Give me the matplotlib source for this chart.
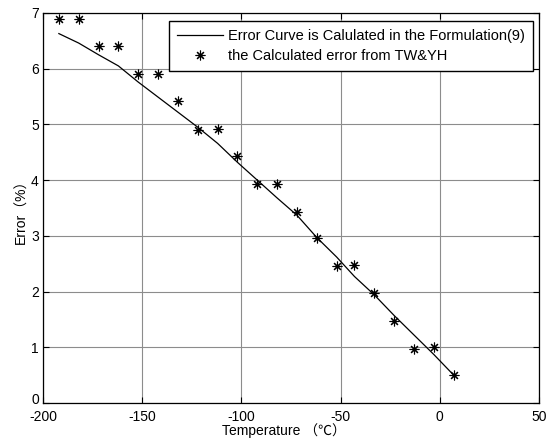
import matplotlib
matplotlib.use('Agg')
import matplotlib.pyplot as plt
import matplotlib.transforms as mtransforms

plt.rcParams['font.family'] = ['Liberation Sans', 'Noto Sans CJK SC', 'DejaVu Sans']
plt.rcParams['font.size'] = 10
plt.rcParams['axes.unicode_minus'] = False

# temperatures of the points / curve
temp = [-192, -182, -172, -162, -152, -142, -132, -122, -112, -102, -92,
        -82, -72, -62, -52, -43, -33, -23, -13, -3, 7]
# error curve from the formulation (9)
curve_err = [6.63, 6.46, 6.25, 6.05, 5.76, 5.49, 5.22, 4.95, 4.66, 4.32, 4.00,
             3.68, 3.37, 2.97, 2.62, 2.27, 1.94, 1.57, 1.22, 0.87, 0.50]
# calculated error from TW&YH
calc_err = [6.90, 6.90, 6.40, 6.40, 5.90, 5.90, 5.42, 4.90, 4.92, 4.43, 3.93,
            3.93, 3.43, 2.96, 2.46, 2.47, 1.97, 1.47, 0.97, 1.00, 0.50]

xticks = [-200, -150, -100, -50, 0, 50]
yticks = [0, 1, 2, 3, 4, 5, 6, 7]

fig = plt.figure(figsize=(5.47, 4.43), dpi=100)
ax = fig.add_axes([0.0786, 0.0903, 0.9068, 0.8804])

ax.plot(temp, curve_err, color='black', lw=0.9,
        label='Error Curve is Calulated in the Formulation(9)')
ax.plot(temp, calc_err, linestyle='none', marker=(8, 2, 0), markersize=7,
        markeredgewidth=0.8, color='black',
        label='the Calculated error from TW&YH')

ax.set_xlim(-200, 50)
ax.set_ylim(0, 7)
ax.set_xticks(xticks)
ax.set_yticks(yticks)
ax.grid(True, color='0.55', lw=0.8, linestyle='-')
ax.set_axisbelow(True)
ax.tick_params(direction='in', top=True, right=True, length=4, width=0.8,
               labelsize=10, pad=3)
ax.tick_params(axis='x', pad=5)
for s in ax.spines.values():
    s.set_linewidth(0.9)

# lift the "0" a little so it does not sit on top of "-200"
lab0 = ax.get_yticklabels()[0]
lab0.set_transform(lab0.get_transform() +
                   mtransforms.ScaledTranslation(0, 3 / 72, fig.dpi_scale_trans))

ax.set_xlabel('Temperature （℃）', fontsize=10)
ax.xaxis.set_label_coords(0.486, -0.052)
ax.set_ylabel('Error（%）', fontsize=10, labelpad=2)

leg = ax.legend(loc='upper right', bbox_to_anchor=(0.988, 0.98), fontsize=10.5,
                fancybox=False, framealpha=1, edgecolor='black',
                borderpad=0.55, labelspacing=0.45, handlelength=3.15,
                handletextpad=0.35, borderaxespad=0)
leg.get_frame().set_linewidth(1.0)

fig.savefig('out.png', dpi=100)
